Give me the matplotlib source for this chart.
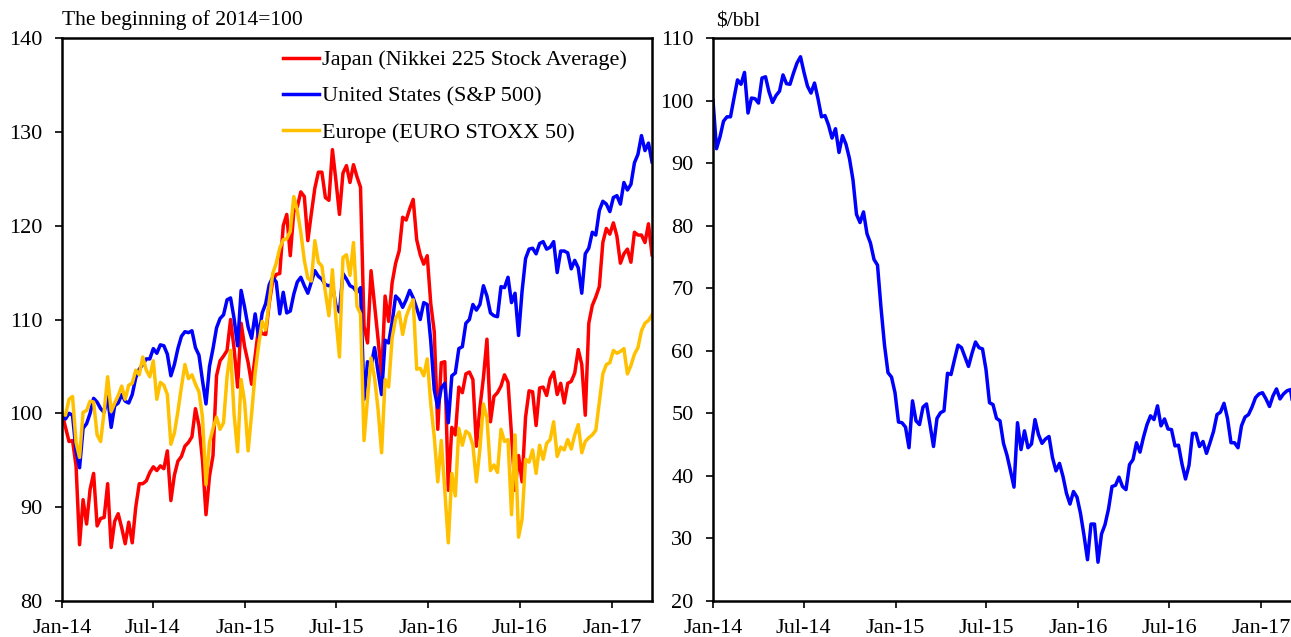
import numpy as np
import pandas as pd
import matplotlib
matplotlib.use("Agg")
import matplotlib.pyplot as plt
import matplotlib.dates as mdates

plt.rcParams['font.family'] = ['Liberation Serif', 'DejaVu Serif']

# weekly points (Wednesdays), 2014-01-01 .. 2017-03-22
dates = pd.date_range('2014-01-01', periods=169, freq='7D')

# stock indices, beginning of 2014 = 100
japan = [
    100.0, 98.5, 97.0, 97.1, 94.4, 86.0, 90.8, 88.2, 91.9, 93.6,
    88.0, 88.8, 88.9, 92.5, 85.7, 88.5, 89.3, 87.8, 86.1, 88.4,
    86.2, 90.0, 92.5, 92.5, 92.8, 93.7, 94.3, 93.9, 94.4, 94.1,
    96.0, 90.7, 93.4, 94.9, 95.4, 96.5, 96.9, 97.5, 100.5, 98.7,
    95.0, 89.2, 93.3, 95.5, 104.0, 105.6, 106.1, 106.7, 110.0, 106.9,
    102.8, 109.6, 107.1,
    105.4, 103.1, 106.1, 109.2, 108.5, 108.4, 111.7, 114.1, 114.8, 114.9,
    120.0, 121.2, 116.8, 121.5, 122.0, 123.6, 123.1, 118.4, 121.3, 124.0,
    125.7, 125.7, 123.0, 122.7, 128.1, 124.8, 121.2, 125.6, 126.4, 124.6,
    126.5, 125.2, 124.1, 109.3, 107.5, 115.2, 111.5, 107.9, 103.9, 112.5,
    109.8, 113.9, 116.0, 117.3, 120.9, 120.6, 121.8, 122.8, 118.5, 116.9,
    115.9, 116.8,
    111.7, 108.7, 98.3, 105.4, 105.5, 91.8, 98.5, 97.7, 102.8, 102.2,
    104.2, 104.4, 103.6, 96.5, 100.6, 103.8, 107.9, 99.1, 101.8, 102.2,
    102.9, 104.1, 103.3, 97.7, 91.8, 95.5, 92.7, 99.6, 102.4, 102.3,
    98.7, 102.7, 102.8, 101.9, 103.7, 104.4, 102.0, 103.2, 101.1, 103.2,
    103.4, 104.3, 106.8, 105.2, 99.8, 109.6, 111.5, 112.4, 113.5, 118.2,
    119.7, 119.1,
    120.3, 118.9, 116.0, 117.0, 117.5, 116.1, 119.3, 119.0, 119.0, 118.2,
    120.2, 116.9,
]

us = [
    100.0, 99.4, 100.0, 99.8, 96.0, 94.2, 98.4, 98.9, 100.0, 101.6,
    101.2, 100.5, 100.1, 101.8, 98.5, 100.8, 101.1, 102.0, 101.3, 101.1,
    102.0, 103.8, 104.7, 105.2, 105.8, 105.8, 106.9, 106.4, 107.3, 107.2,
    106.3, 104.0, 105.2, 106.9, 108.2, 108.7, 108.6, 108.8, 107.0, 106.2,
    103.5, 101.0, 105.0, 106.9, 109.1, 110.1, 110.5, 112.1, 112.3, 110.1,
    107.2, 113.1, 111.3,
    109.2, 108.0, 110.6, 108.1, 110.7, 111.7, 113.7, 114.5, 114.0, 110.6,
    112.9, 110.7, 110.9, 112.7, 114.0, 114.5, 113.6, 112.8, 114.0, 115.2,
    114.6, 114.3, 113.7, 113.6, 113.7, 111.5, 110.8, 114.9, 114.3, 113.6,
    113.4, 112.9, 113.4, 101.5, 105.5, 105.0, 107.0, 104.4, 102.0, 107.8,
    107.5, 109.7, 112.5, 112.1, 111.3, 112.1, 113.1, 112.3, 111.2, 110.0,
    111.8, 111.6,
    107.7, 102.5, 100.6, 102.7, 103.2, 99.0, 104.0, 104.3, 106.9, 107.1,
    109.6, 110.0, 111.6, 111.0, 111.6, 113.6, 112.5, 110.7, 110.4, 110.3,
    113.5, 113.4, 114.5, 111.8, 112.8, 108.3, 113.0, 116.5, 117.5, 117.6,
    117.0, 118.1, 118.3, 117.5, 117.7, 118.3, 115.0, 117.3, 117.3, 117.1,
    115.4, 116.3, 115.5, 112.8, 117.0, 117.6, 119.3, 119.0, 121.6, 122.6,
    122.3, 121.5,
    123.0, 123.2, 122.3, 124.6, 123.8, 124.4, 126.7, 127.6, 129.6, 128.0,
    128.8, 126.8,
]

europe = [
    100.0, 99.8, 101.5, 101.8, 96.9, 95.3, 100.1, 100.3, 101.3, 101.2,
    97.7, 97.0, 100.2, 103.9, 100.2, 101.1, 101.9, 102.9, 101.5, 103.0,
    103.2, 104.6, 104.1, 106.0, 104.6, 103.9, 105.6, 101.5, 103.3, 103.0,
    102.0, 96.7, 97.9, 100.2, 102.8, 105.2, 103.7, 104.1, 103.1, 102.3,
    99.6, 92.4, 96.9, 98.4, 99.6, 98.3, 99.0, 103.9, 106.7, 99.9,
    95.9, 103.6, 101.2,
    96.0, 100.0, 104.3, 107.3, 109.8, 108.9, 111.9, 114.9, 116.0, 117.6,
    118.5, 118.6, 119.4, 123.1, 121.6, 119.3, 116.3, 114.4, 114.1, 118.4,
    116.1, 115.7, 112.9, 110.4, 115.3, 110.1, 106.0, 116.6, 116.9, 114.7,
    118.2, 111.4, 110.6, 97.1, 101.6, 105.9, 103.8, 100.4, 95.8, 103.6,
    102.8, 108.0, 110.1, 110.8, 108.4, 110.3, 111.3, 112.1, 104.7, 104.8,
    104.0, 105.8,
    101.0, 97.5, 92.7, 97.1, 91.8, 86.2, 93.6, 91.2, 98.4, 96.6,
    98.1, 97.8, 96.6, 92.7, 96.2, 101.0, 99.5, 93.9, 94.5, 93.7,
    98.3, 97.0, 97.2, 89.2, 97.7, 86.8, 88.7, 95.1, 94.8, 96.1,
    93.6, 96.6, 95.1, 96.8, 97.2, 99.1, 95.4, 96.4, 96.1, 97.2,
    96.2, 97.7, 98.8, 95.8, 97.0, 97.4, 97.7, 98.2, 101.2, 104.2,
    105.2, 105.4,
    106.7, 106.4, 106.6, 106.9, 104.2, 105.1, 106.3, 107.0, 108.8, 109.6,
    109.9, 110.5,
]

# crude oil, $/bbl
oil = [
    100.0, 92.3, 94.2, 96.7, 97.4, 97.4, 100.4, 103.3, 102.6, 104.5,
    98.0, 100.4, 100.3, 99.6, 103.6, 103.8, 101.4, 99.7, 100.8, 101.5,
    104.1, 102.7, 102.6, 104.4, 106.0, 107.0, 104.5, 102.3, 101.2, 102.8,
    100.3, 97.4, 97.6, 96.1, 94.0, 95.5, 91.7, 94.4, 93.0, 90.7,
    87.3, 81.8, 80.5, 82.2, 78.7, 77.2, 74.6, 73.7, 66.9, 60.9,
    56.5, 55.8, 53.3,
    48.6, 48.5, 47.8, 44.5, 52.0, 48.8, 48.2, 51.0, 51.5, 48.2,
    44.7, 49.2, 50.1, 50.4, 56.4, 56.2, 58.6, 60.9, 60.5, 59.0,
    57.5, 59.6, 61.4, 60.5, 60.3, 57.0, 51.7, 51.4, 49.2, 48.8,
    45.2, 43.3, 40.8, 38.2, 48.5, 44.2, 47.2, 44.5, 45.1, 49.0,
    46.6, 45.2, 45.9, 46.3, 42.9, 40.8, 42.0, 39.9, 37.2, 35.5,
    37.5, 36.6,
    34.0, 30.5, 26.6, 32.3, 32.3, 26.2, 30.7, 32.2, 34.7, 38.3,
    38.5, 39.8, 38.3, 37.8, 41.8, 42.6, 45.3, 43.8, 46.2, 48.2,
    49.6, 49.0, 51.2, 48.0, 49.1, 47.5, 47.4, 44.8, 44.9, 41.9,
    39.5, 41.7, 46.8, 46.8, 44.7, 45.5, 43.6, 45.3, 47.1, 49.8,
    50.2, 51.6, 49.2, 45.3, 45.3, 44.5, 48.0, 49.4, 49.8, 51.0,
    52.5, 53.1,
    53.3, 52.3, 51.1, 52.8, 53.9, 52.3, 53.1, 53.6, 53.8, 50.3,
    48.9, 47.3,
]

fs = 16
fig = plt.figure(figsize=(12.91, 6.37), dpi=100)
ax1 = fig.add_axes([62 / 1291, 1 - 601 / 637, 590 / 1291, 563 / 637])
ax2 = fig.add_axes([713 / 1291, 1 - 601 / 637, 588 / 1291, 563 / 637])

lw = 2.5
ax1.plot(dates, japan, color='#FF0000', lw=lw, label='Japan (Nikkei 225 Stock Average)')
ax1.plot(dates, us, color='#0000FF', lw=lw, label='United States (S&P 500)')
ax1.plot(dates, europe, color='#FFC000', lw=lw, label='Europe (EURO STOXX 50)')
ax1.set_ylim(80, 140)
ax1.set_yticks(np.arange(80, 141, 10))

ax2.plot(dates, oil, color='#0000FF', lw=lw)
ax2.set_ylim(20, 110)
ax2.set_yticks(np.arange(20, 111, 10))

xmin, xmax = pd.Timestamp('2014-01-01'), pd.Timestamp('2017-03-22')
for ax in (ax1, ax2):
    ax.set_xlim(xmin, xmax)
    ax.xaxis.set_major_locator(mdates.MonthLocator(bymonth=[1, 7]))
    ax.xaxis.set_major_formatter(mdates.DateFormatter('%b-%y'))
    ax.tick_params(direction='out', length=5, width=1.2, labelsize=fs)
    ax.tick_params(axis='x', pad=8)
    ax.tick_params(axis='y', pad=9)
    for sp in ax.spines.values():
        sp.set_linewidth(1.8)

ax1.legend(loc='upper left', bbox_to_anchor=(0.374, 0.979), frameon=False,
           fontsize=fs, handlelength=1.65, handletextpad=0.1,
           labelspacing=0.7, borderaxespad=0, borderpad=0)

fig.text(62 / 1291, 1 - 20 / 637, 'The beginning of 2014=100', fontsize=15.5,
         ha='left', va='center')
fig.text(716 / 1291, 1 - 22 / 637, '$/bbl', fontsize=15.5, ha='left', va='center')

fig.savefig('out.png', dpi=100)
